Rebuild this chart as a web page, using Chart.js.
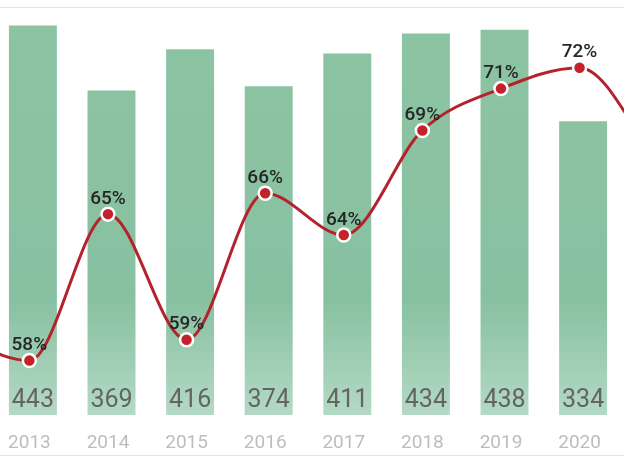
<!DOCTYPE html>
<html>
<head>
<meta charset="utf-8">
<script src="https://cdn.jsdelivr.net/npm/chart.js@4"></script>
<style>
  html, body { margin: 0; padding: 0; background: #fff; overflow: hidden; }
  body { width: 624px; height: 466px; position: relative; }
  #wrap { position: absolute; left: -85px; top: 0; width: 786px; height: 471px; }
</style>
</head>
<body>
<div id="wrap"><canvas id="chart"></canvas></div>
<script>
// 2012 and 2021 sit just outside the visible crop; only the line shows there
const years = ["2012", "2013", "2014", "2015", "2016", "2017", "2018", "2019", "2020", "2021"];
const counts = [null, 443, 369, 416, 374, 411, 434, 438, 334, null];
const shares = [59.3, 58, 65, 59, 66, 64, 69, 71, 72, 67.5];

const labelPlugin = {
  id: "labels",
  afterDraw(chart) {
    const ctx = chart.ctx;
    const area = chart.chartArea;
    ctx.save();
    // thin frame lines
    ctx.strokeStyle = "#e2e2e2";
    ctx.lineWidth = 1;
    ctx.beginPath();
    ctx.moveTo(0, 7.5); ctx.lineTo(chart.width, 7.5);
    ctx.moveTo(0, 455.5); ctx.lineTo(chart.width, 455.5);
    ctx.stroke();

    ctx.textAlign = "center";
    ctx.textBaseline = "middle";
    ctx.font = "25px Roboto";
    ctx.fillStyle = "#646464";
    chart.getDatasetMeta(0).data.forEach((bar, i) => {
      if (counts[i] == null) return;
      ctx.fillText(String(counts[i]), bar.x, area.bottom - 14);
    });

    ctx.font = "500 19px Roboto";
    ctx.fillStyle = "#262626";
    chart.getDatasetMeta(1).data.forEach((pt, i) => {
      ctx.fillText(shares[i] + "%", pt.x, pt.y - 15);
    });
    ctx.restore();
  }
};

const ctx = document.getElementById("chart");
new Chart(ctx, {
  type: "bar",
  data: {
    labels: years,
    datasets: [
      {
        type: "bar",
        data: counts,
        xAxisID: "x",
        yAxisID: "y",
        order: 1,
        grouped: false,
        categoryPercentage: 1,
        barPercentage: 0.61,
        backgroundColor(c) {
          const a = c.chart.chartArea;
          if (!a) return "#89c1a1";
          const g = c.chart.ctx.createLinearGradient(0, a.top, 0, a.bottom);
          g.addColorStop(0, "#8cc3a3");
          g.addColorStop(0.72, "#88c1a1");
          g.addColorStop(1, "#b3d9c4");
          return g;
        }
      },
      {
        type: "line",
        data: shares.map((v, i) => ({ x: i, y: v })),
        xAxisID: "xl",
        yAxisID: "yp",
        order: 0,
        borderColor: "#b4232b",
        borderWidth: 3,
        cubicInterpolationMode: "monotone",
        pointRadius: 6.5,
        pointBackgroundColor: "#c4212a",
        pointBorderColor: "#ffffff",
        pointBorderWidth: 2.5,
        clip: false
      }
    ]
  },
  options: {
    responsive: true,
    maintainAspectRatio: false,
    animation: false,
    layout: { autoPadding: false, padding: { top: 7, bottom: 0, left: 0, right: 0 } },
    plugins: { legend: { display: false }, tooltip: { enabled: false } },
    scales: {
      x: {
        type: "category",
        grid: { display: false, drawTicks: false },
        border: { display: false },
        ticks: {
          color: "#bdbdbd", font: { family: "Roboto", size: 19 },
          padding: 16.6, labelOffset: -3.5, maxRotation: 0, autoSkip: false
        }
      },
      xl: { type: "linear", display: false, offset: false, min: -0.455, max: 9.545 },
      y: { display: false, min: 0, max: 464 },
      yp: { display: false, min: 55.4, max: 74.9 }
    }
  },
  plugins: [labelPlugin]
});
</script>
</body>
</html>
